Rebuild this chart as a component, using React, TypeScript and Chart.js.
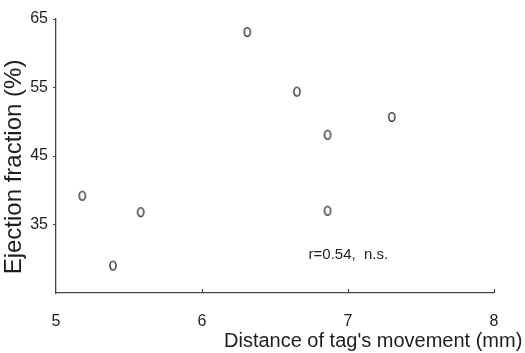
import React, { useEffect, useRef } from "react";
import { Chart, registerables } from "chart.js";

Chart.register(...registerables);

const xValues = [5.18, 5.39, 5.58, 6.31, 6.65, 6.86, 6.86, 7.3];
const yValues = [39.2, 29.0, 36.8, 63.1, 54.4, 48.1, 37.0, 50.7];
const xTicks = [5, 6, 7, 8];
const yTicks = [35, 45, 55, 65];
const xTitle = "Distance of tag's movement (mm)";
const yTitle = "Ejection fraction (%)";
const note = "r=0.54,  n.s.";
const notePos = { x: 6.73, y: 30.5 };

const FONT = "'Liberation Sans', Arial, sans-serif";

function makeMarker(): HTMLCanvasElement {
  const c = document.createElement("canvas");
  c.width = 10;
  c.height = 12;
  const g = c.getContext("2d")!;
  g.strokeStyle = "#1e1e1e";
  g.lineWidth = 1.3;
  g.beginPath();
  g.ellipse(5, 6, 3.1, 4.3, 0, 0, Math.PI * 2);
  g.stroke();
  return c;
}

const decorPlugin = {
  id: "decor",
  afterDraw(chart: any) {
    const ctx = chart.ctx;
    const xs = chart.scales.x;
    const ys = chart.scales.y;
    const bottom = chart.chartArea.bottom;
    ctx.save();
    ctx.strokeStyle = "#444";
    ctx.lineWidth = 1.2;
    xTicks.slice(1).forEach((v) => {
      const px = Math.round(xs.getPixelForValue(v)) + 0.5;
      ctx.beginPath();
      ctx.moveTo(px, bottom);
      ctx.lineTo(px, bottom - 4);
      ctx.stroke();
    });
    ctx.fillStyle = "#1e1e1e";
    ctx.font = `20px ${FONT}`;
    ctx.textAlign = "left";
    ctx.textBaseline = "alphabetic";
    ctx.fillText(xTitle, 224, 347);
    ctx.save();
    ctx.translate(21, 167);
    ctx.rotate(-Math.PI / 2);
    ctx.font = `24px ${FONT}`;
    ctx.textAlign = "center";
    ctx.fillText(yTitle, 0, 0);
    ctx.restore();
    ctx.font = `15px ${FONT}`;
    ctx.textAlign = "left";
    ctx.textBaseline = "middle";
    ctx.fillText(note, xs.getPixelForValue(notePos.x), ys.getPixelForValue(notePos.y));
    ctx.restore();
  },
};

export default function App() {
  const ref = useRef<HTMLCanvasElement>(null);
  useEffect(() => {
    const marker = makeMarker();
    const chart = new Chart(ref.current!, {
      type: "scatter",
      data: {
        datasets: [
          {
            data: xValues.map((x, i) => ({ x, y: yValues[i] })),
            pointStyle: marker as any,
            pointRadius: 5,
          },
        ],
      },
      options: {
        animation: false,
        responsive: false,
        events: [],
        layout: { padding: { top: 19, right: 31, left: 0, bottom: 0 } },
        plugins: { legend: { display: false }, tooltip: { enabled: false } },
        scales: {
          x: {
            type: "linear",
            min: 5,
            max: 8,
            afterBuildTicks: (s: any) => {
              s.ticks = xTicks.map((v) => ({ value: v }));
            },
            afterFit: (s: any) => {
              s.height = 60;
            },
            border: { display: true, color: "#444", width: 1.3 },
            grid: { drawOnChartArea: false, drawTicks: false, display: false },
            ticks: {
              padding: 19,
              color: "#1e1e1e",
              font: { family: FONT, size: 16 },
              maxRotation: 0,
              autoSkip: false,
            },
          },
          y: {
            type: "linear",
            min: 25,
            max: 65,
            afterBuildTicks: (s: any) => {
              s.ticks = [25, ...yTicks].map((v) => ({ value: v }));
            },
            afterFit: (s: any) => {
              s.width = 56;
            },
            border: { display: true, color: "#444", width: 1.3 },
            grid: {
              drawOnChartArea: false,
              drawTicks: true,
              tickLength: 3,
              color: (c: any) => (c.tick && c.tick.value === 25 ? "rgba(0,0,0,0)" : "#444"),
            },
            ticks: {
              padding: 5,
              color: "#1e1e1e",
              font: { family: FONT, size: 16 },
              autoSkip: false,
              callback: (v: any) => (v === 25 ? "" : String(v)),
            },
          },
        },
      },
      plugins: [decorPlugin],
    });
    return () => chart.destroy();
  }, []);
  return (
    <div style={{ position: "absolute", left: 0, top: 0, width: 525, height: 353, background: "#fff" }}>
      <canvas ref={ref} width={525} height={353} />
    </div>
  );
}
